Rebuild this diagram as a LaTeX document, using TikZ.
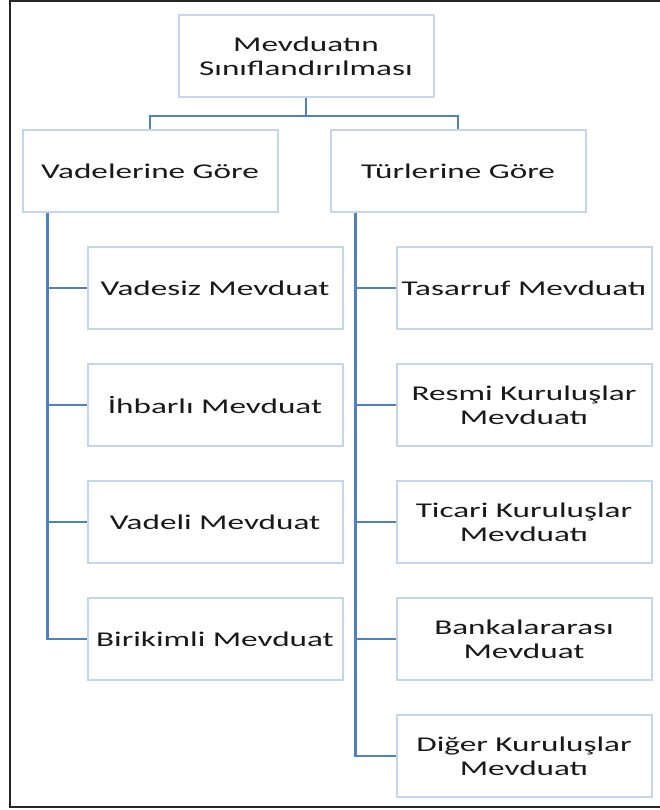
\documentclass[tikz,border=0pt]{standalone}
\usepackage{fontspec}
\setmainfont{Carlito}[FakeStretch=1.58]
\definecolor{linkblue}{RGB}{79,129,189}
\definecolor{boxline}{RGB}{196,214,237}

\begin{document}
\begin{tikzpicture}[x=1pt,y=-1pt,
  box/.style={draw=boxline,line width=2pt,fill=white,align=center,
    minimum width=255pt,minimum height=82pt,inner sep=2pt,
    font=\fontsize{21pt}{24pt}\selectfont,text=black!90},
  link/.style={draw=linkblue,line width=2.2pt}]

\useasboundingbox (0,0) rectangle (660,810);
\draw[line width=2pt,black!85] (660,1) -- (10,1) -- (10,807) -- (660,807);

\node at (306,56) [box] (mevduat) {Mevduatın\\Sınıflandırılması};
\node at (150,171) [box] (vade) {Vadelerine Göre};
\node at (458,171) [box] (tur) {Türlerine Göre};

\node at (215,288) [box] (vadesiz) {Vadesiz Mevduat};
\node at (215,405) [box] (ihbarli) {İhbarlı Mevduat};
\node at (215,522) [box] (vadeli) {Vadeli Mevduat};
\node at (215,639) [box] (birikimli) {Birikimli Mevduat};

\node at (524,288) [box] (tasarruf) {Tasarruf Mevduatı};
\node at (524,405) [box] (resmi) {Resmi Kuruluşlar\\Mevduatı};
\node at (524,522) [box] (ticari) {Ticari Kuruluşlar\\Mevduatı};
\node at (524,639) [box] (banka) {Bankalararası\\Mevduat};
\node at (524,756) [box] (diger) {Diğer Kuruluşlar\\Mevduatı};

\draw[link] (mevduat.south) -- ++(0,18) -| (vade.north);
\draw[link] (mevduat.south) -- ++(0,18) -| (tur.north);

\draw[link] ([xshift=26pt]vade.south west) |- (vadesiz.west);
\draw[link] ([xshift=26pt]vade.south west) |- (ihbarli.west);
\draw[link] ([xshift=26pt]vade.south west) |- (vadeli.west);
\draw[link] ([xshift=26pt]vade.south west) |- (birikimli.west);

\draw[link] ([xshift=26pt]tur.south west) |- (tasarruf.west);
\draw[link] ([xshift=26pt]tur.south west) |- (resmi.west);
\draw[link] ([xshift=26pt]tur.south west) |- (ticari.west);
\draw[link] ([xshift=26pt]tur.south west) |- (banka.west);
\draw[link] ([xshift=26pt]tur.south west) |- (diger.west);

\end{tikzpicture}
\end{document}
